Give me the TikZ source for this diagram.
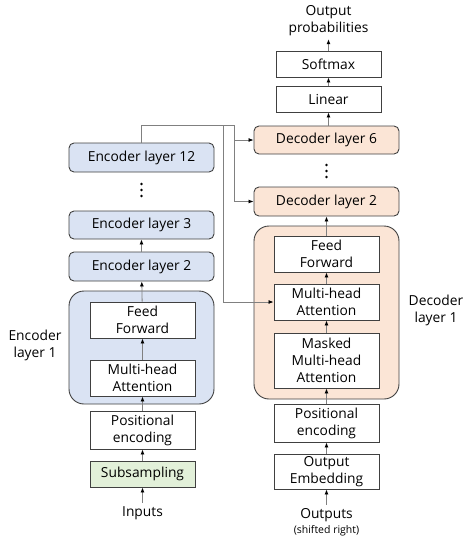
\documentclass[tikz,border=0pt]{standalone}
\usepackage{fontspec}
\setmainfont{Open Sans}
\usetikzlibrary{arrows.meta}
\definecolor{encblue}{HTML}{DAE3F3}
\definecolor{decorange}{HTML}{FBE5D6}
\definecolor{subgreen}{HTML}{E2F0D9}
\begin{document}
\begin{tikzpicture}[x=1pt,y=-1pt,font=\fontsize{13.8}{17}\selectfont,
  layer node/.style={draw=black!75,line width=0.9pt,rounded corners=5pt,minimum width=145pt,inner sep=0pt},
  block node/.style={draw=black!75,line width=0.9pt,fill=white,minimum width=105pt,inner sep=0pt,align=center},
  big node/.style={draw=black!75,line width=0.9pt,rounded corners=15pt,minimum width=145pt,inner sep=0pt},
  line/.style={draw=black!50,line width=0.8pt},
  arr/.style={line,-{Latex[black,length=5pt,width=4pt]}}]
\useasboundingbox (0,0) rectangle (473,550);
% encoder side
\node [big node,fill=encblue,minimum height=113pt] (enc1) at (141.5,347.5) {};
\node [align=center] (enc1lab) at (35,345) {Encoder\\layer 1};
\node [block node,minimum height=36pt] (eff) at (142.5,320) {Feed\\Forward};
\node [block node,minimum height=36pt] (emha) at (142.5,378) {Multi-head\\Attention};
\node [block node,minimum height=38pt] (epe) at (142.5,430) {Positional\\encoding};
\node [block node,fill=subgreen,minimum height=26pt] (sub) at (142.5,474) {Subsampling};
\node (inputs) at (142.5,513) {Inputs};
\node [layer node,fill=encblue,minimum height=29pt] (enc2) at (141.5,266.5) {Encoder layer 2};
\node [layer node,fill=encblue,minimum height=28pt] (enc3) at (141.5,225) {Encoder layer 3};
\coordinate (edots) at (141.5,190);
\foreach \d in {-6,0,6} \fill (edots) ++(0,\d) circle (1.4pt);
\node [layer node,fill=encblue,minimum height=29pt] (enc12) at (141.5,157.5) {Encoder layer 12};
% decoder side
\node [big node,fill=decorange,minimum height=173pt] (dec1) at (326.5,312.5) {};
\node [align=center] (dec1lab) at (436,310) {Decoder\\layer 1};
\node [block node,minimum height=36pt] (dff) at (326.5,254) {Feed\\Forward};
\node [block node,minimum height=36pt] (dmha) at (326.5,302) {Multi-head\\Attention};
\node [block node,minimum height=55pt] (dmask) at (326.5,360.5) {Masked\\Multi-head\\Attention};
\node [block node,minimum height=38pt] (dpe) at (326.5,423) {Positional\\encoding};
\node [block node,minimum height=35pt] (demb) at (326.5,471.5) {Output\\Embedding};
\node [align=center] (outputs) at (326.5,522) {Outputs\\[-2pt]{\fontsize{10.5}{12}\selectfont (shifted right)}};
\node [layer node,fill=decorange,minimum height=29pt] (dec2) at (326.5,201.5) {Decoder layer 2};
\coordinate (ddots) at (326.5,171);
\foreach \d in {-6,0,6} \fill (ddots) ++(0,\d) circle (1.4pt);
\node [layer node,fill=decorange,minimum height=28pt] (dec6) at (326.5,140) {Decoder layer 6};
\node [block node,minimum height=26pt] (linear) at (328.5,99) {Linear};
\node [block node,minimum height=26pt] (softmax) at (328.5,64) {Softmax};
\node [align=center] (prob) at (328.5,20.5) {Output\\probabilities};
% connectors
\draw [arr] (inputs) -- (sub);
\draw [arr] (sub) -- (epe);
\draw [arr] (epe) -- (emha);
\draw [arr] (emha) -- (eff);
\draw [arr] (eff) -- (enc2);
\draw [arr] (enc2) -- (enc3);
\draw [arr] (outputs) -- (demb);
\draw [arr] (demb) -- (dpe);
\draw [arr] (dpe) -- (dmask);
\draw [arr] (dmask) -- (dmha);
\draw [arr] (dmha) -- (dff);
\draw [arr] (dff) -- (dec2);
\draw [arr] (dec6.north -| linear) -- (linear);
\draw [arr] (linear) -- (softmax);
\draw [arr] (softmax) -- (prob);
\coordinate (ja) at (223,125);
\coordinate (jb) at (234,125);
\draw [line] (enc12.north) |- (jb);
\draw [arr] (ja) |- (dmha.west);
\draw [arr] (jb) |- (dec6.west);
\draw [arr] (jb) |- (dec2.west);
\end{tikzpicture}
\end{document}
